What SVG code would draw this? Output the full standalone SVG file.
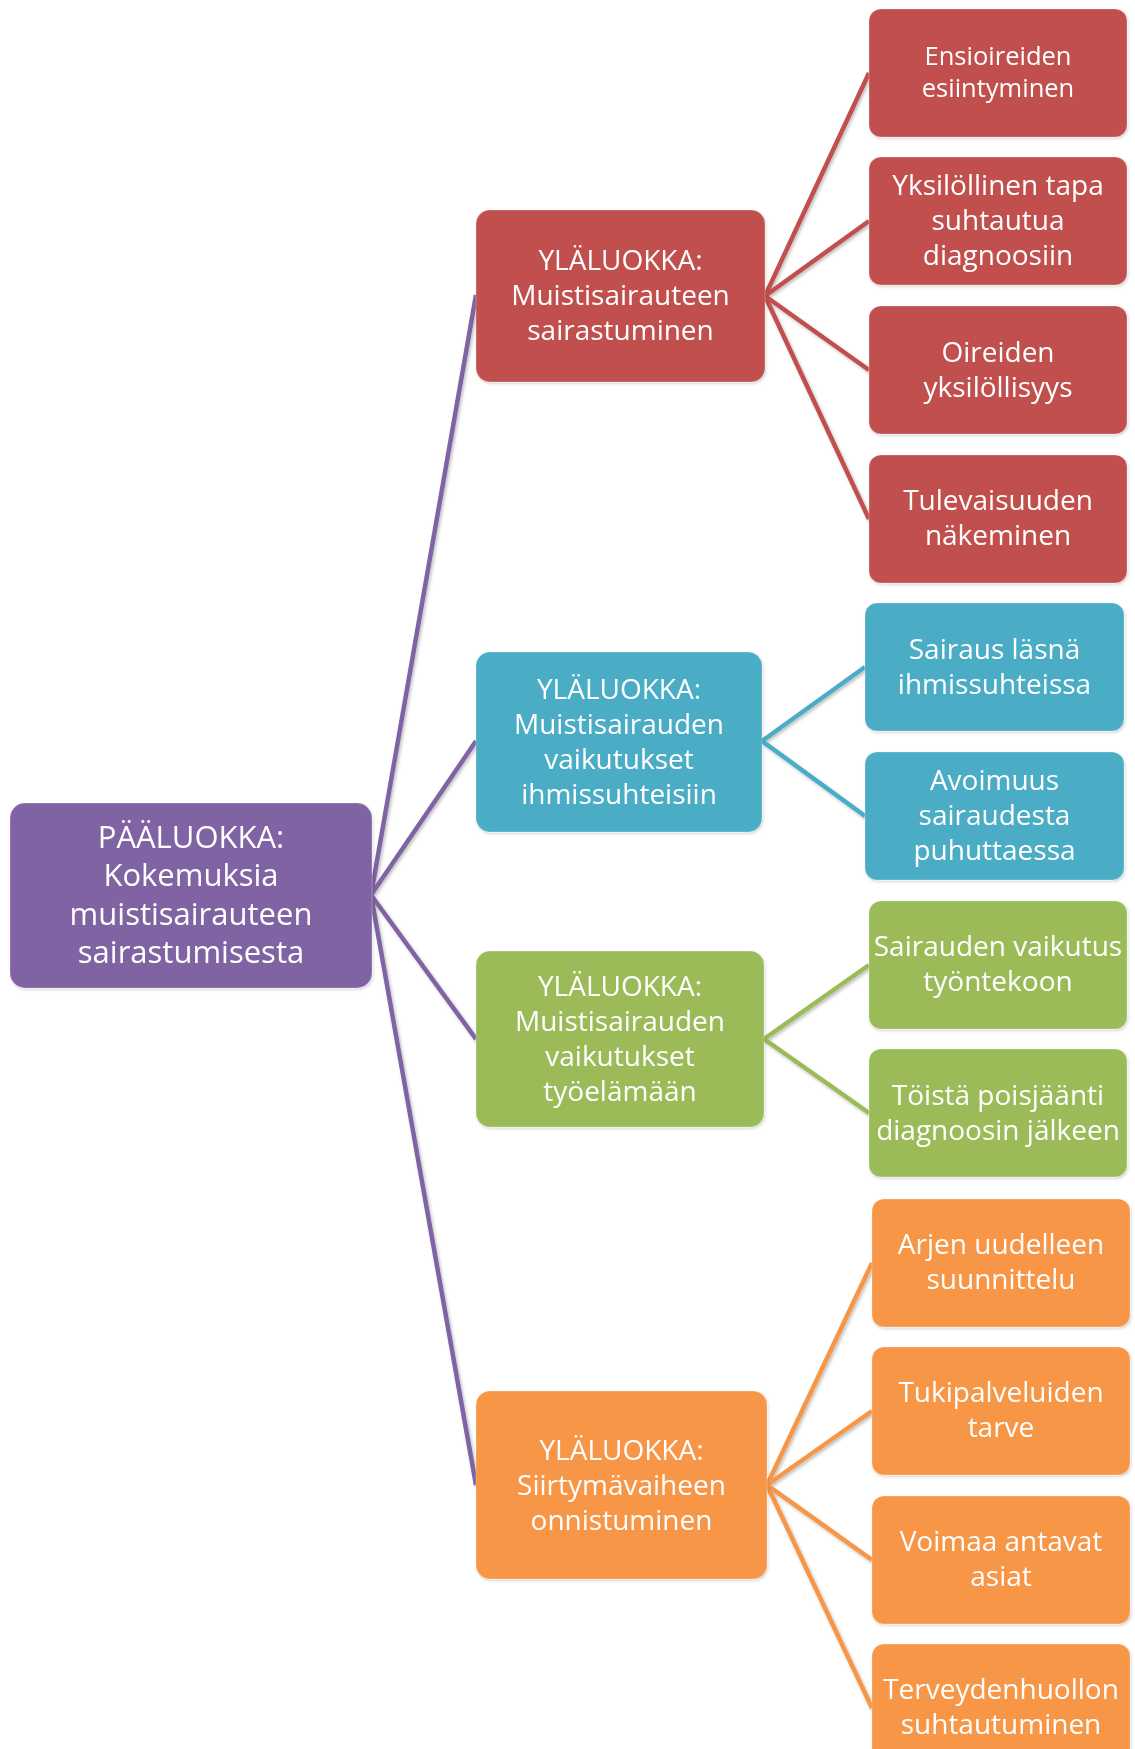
<svg xmlns="http://www.w3.org/2000/svg" width="1135" height="1749" viewBox="0 0 1135 1749">
<style>
  text { font-family: "Open Sans", "Liberation Sans", sans-serif; fill: #FFFFFF; text-anchor: middle; }
  .root text { font-size: 31px; }
  .mid text, .leaf text { font-size: 28px; }
  .leaf text.sm { font-size: 25.5px; }
  .purple rect { fill: #8064A2; }
  .red rect { fill: #C0504D; }
  .blue rect { fill: #4BACC6; }
  .green rect { fill: #9BBB59; }
  .orange rect { fill: #F79646; }
  rect { stroke: #FFFFFF; stroke-opacity: 0.25; stroke-width: 1; }
  #connectors path { fill: none; stroke-width: 4.5; stroke-linejoin: round; filter: url(#sh); }
  .c-purple { stroke: #8064A2; }
  .c-red { stroke: #C0504D; }
  .c-blue { stroke: #4BACC6; }
  .c-green { stroke: #9BBB59; }
  .c-orange { stroke: #F79646; }
</style>
<defs>
  <filter id="sh" x="-20%" y="-20%" width="140%" height="140%">
    <feDropShadow dx="1.5" dy="2" stdDeviation="1.5" flood-color="#000000" flood-opacity="0.25"/>
  </filter>
  <filter id="bsh" x="-10%" y="-10%" width="120%" height="120%">
    <feDropShadow dx="1" dy="1.5" stdDeviation="1.5" flood-color="#000000" flood-opacity="0.18"/>
  </filter>
</defs>
<rect width="1135" height="1749" fill="#FFFFFF" stroke="none"/>

<g id="connectors">
  <path class="c-purple" d="M371 895 L476 295 M371 895 L476 741 M371 895 L476 1039 M371 895 L476 1485"/>
  <path class="c-red" d="M765 296 L869 73 M765 296 L869 221 M765 296 L869 370 M765 296 L869 519"/>
  <path class="c-blue" d="M762 741 L865 667 M762 741 L865 816"/>
  <path class="c-green" d="M764 1039 L869 965 M764 1039 L869 1113"/>
  <path class="c-orange" d="M767 1485 L872 1263 M767 1485 L872 1411 M767 1485 L872 1560 M767 1485 L872 1708"/>
</g>

<g id="root" class="root purple" filter="url(#bsh)">
  <rect x="10" y="803" width="362" height="185" rx="15"/>
  <text x="191" y="848">PÄÄLUOKKA:</text>
  <text x="191" y="886">Kokemuksia</text>
  <text x="191" y="925">muistisairauteen</text>
  <text x="191" y="963">sairastumisesta</text>
</g>

<g id="mid-red" class="mid red" filter="url(#bsh)">
  <rect x="476" y="210" width="289" height="172" rx="14"/>
  <text x="620.5" y="270">YLÄLUOKKA:</text>
  <text x="620.5" y="305">Muistisairauteen</text>
  <text x="620.5" y="340">sairastuminen</text>
</g>

<g id="mid-blue" class="mid blue" filter="url(#bsh)">
  <rect x="476" y="652" width="286" height="180" rx="14"/>
  <text x="619" y="699">YLÄLUOKKA:</text>
  <text x="619" y="734">Muistisairauden</text>
  <text x="619" y="769">vaikutukset</text>
  <text x="619" y="804">ihmissuhteisiin</text>
</g>

<g id="mid-green" class="mid green" filter="url(#bsh)">
  <rect x="476" y="951" width="288" height="176" rx="14"/>
  <text x="620" y="996">YLÄLUOKKA:</text>
  <text x="620" y="1031">Muistisairauden</text>
  <text x="620" y="1066">vaikutukset</text>
  <text x="620" y="1101">työelämään</text>
</g>

<g id="mid-orange" class="mid orange" filter="url(#bsh)">
  <rect x="476" y="1391" width="291" height="188" rx="14"/>
  <text x="621.5" y="1460">YLÄLUOKKA:</text>
  <text x="621.5" y="1495">Siirtymävaiheen</text>
  <text x="621.5" y="1530">onnistuminen</text>
</g>

<g id="leaf-r1" class="leaf red" filter="url(#bsh)">
  <rect x="869" y="9" width="258" height="128" rx="12"/>
  <text class="sm" x="998" y="65">Ensioireiden</text>
  <text class="sm" x="998" y="97">esiintyminen</text>
</g>
<g id="leaf-r2" class="leaf red" filter="url(#bsh)">
  <rect x="869" y="157" width="258" height="128" rx="12"/>
  <text x="998" y="195">Yksilöllinen tapa</text>
  <text x="998" y="230">suhtautua</text>
  <text x="998" y="265">diagnoosiin</text>
</g>
<g id="leaf-r3" class="leaf red" filter="url(#bsh)">
  <rect x="869" y="306" width="258" height="128" rx="12"/>
  <text x="998" y="362">Oireiden</text>
  <text x="998" y="397">yksilöllisyys</text>
</g>
<g id="leaf-r4" class="leaf red" filter="url(#bsh)">
  <rect x="869" y="455" width="258" height="128" rx="12"/>
  <text x="998" y="510">Tulevaisuuden</text>
  <text x="998" y="545">näkeminen</text>
</g>

<g id="leaf-b1" class="leaf blue" filter="url(#bsh)">
  <rect x="865" y="603" width="259" height="128" rx="12"/>
  <text x="994.5" y="659">Sairaus läsnä</text>
  <text x="994.5" y="694">ihmissuhteissa</text>
</g>
<g id="leaf-b2" class="leaf blue" filter="url(#bsh)">
  <rect x="865" y="752" width="259" height="128" rx="12"/>
  <text x="994.5" y="790">Avoimuus</text>
  <text x="994.5" y="825">sairaudesta</text>
  <text x="994.5" y="860">puhuttaessa</text>
</g>

<g id="leaf-g1" class="leaf green" filter="url(#bsh)">
  <rect x="869" y="901" width="258" height="128" rx="12"/>
  <text x="998" y="956">Sairauden vaikutus</text>
  <text x="998" y="991">työntekoon</text>
</g>
<g id="leaf-g2" class="leaf green" filter="url(#bsh)">
  <rect x="869" y="1049" width="258" height="128" rx="12"/>
  <text x="998" y="1105">Töistä poisjäänti</text>
  <text x="998" y="1140">diagnoosin jälkeen</text>
</g>

<g id="leaf-o1" class="leaf orange" filter="url(#bsh)">
  <rect x="872" y="1199" width="258" height="128" rx="12"/>
  <text x="1001" y="1254">Arjen uudelleen</text>
  <text x="1001" y="1289">suunnittelu</text>
</g>
<g id="leaf-o2" class="leaf orange" filter="url(#bsh)">
  <rect x="872" y="1347" width="258" height="128" rx="12"/>
  <text x="1001" y="1402">Tukipalveluiden</text>
  <text x="1001" y="1437">tarve</text>
</g>
<g id="leaf-o3" class="leaf orange" filter="url(#bsh)">
  <rect x="872" y="1496" width="258" height="128" rx="12"/>
  <text x="1001" y="1551">Voimaa antavat</text>
  <text x="1001" y="1586">asiat</text>
</g>
<g id="leaf-o4" class="leaf orange" filter="url(#bsh)">
  <rect x="872" y="1644" width="258" height="128" rx="12"/>
  <text x="1001" y="1699">Terveydenhuollon</text>
  <text x="1001" y="1734">suhtautuminen</text>
</g>
</svg>
